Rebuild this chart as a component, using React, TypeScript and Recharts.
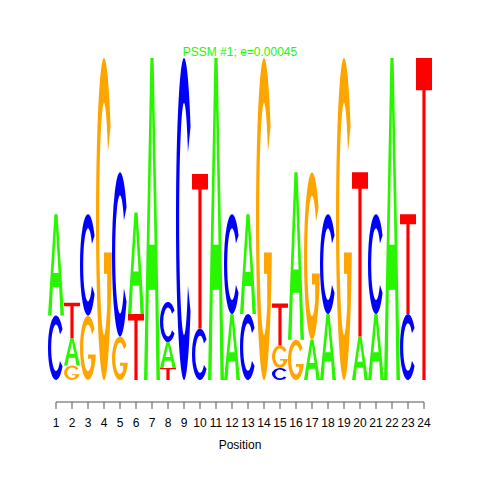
import { BarChart, Bar, XAxis, YAxis, ReferenceLine } from "recharts";

// sequence logo: letters per position, bottom to top, heights in bits
const positions = ["1", "2", "3", "4", "5", "6", "7", "8", "9", "10", "11", "12", "13", "14", "15", "16", "17", "18", "19", "20", "21", "22", "23", "24"];
const letterStacks = ["CA", "GAT", "GC", "G", "GC", "TA", "A", "TAC", "C", "CT", "A", "AC", "CA", "G", "CGT", "GA", "AG", "AC", "G", "AT", "AC", "A", "CT", "T"];
const heightStacks = [
  [0.4, 0.63],
  [0.09, 0.17, 0.22],
  [0.4, 0.63],
  [2.0],
  [0.27, 1.02],
  [0.41, 0.63],
  [2.0],
  [0.075, 0.16, 0.25],
  [2.0],
  [0.32, 0.96],
  [2.0],
  [0.41, 0.62],
  [0.41, 0.62],
  [2.0],
  [0.075, 0.14, 0.26],
  [0.25, 1.04],
  [0.25, 1.04],
  [0.41, 0.62],
  [2.0],
  [0.27, 1.02],
  [0.41, 0.62],
  [2.0],
  [0.41, 0.62],
  [2.0],
];

const title = "PSSM #1; e=0.00045";
const yMin = -0.1366;

const colors: Record<string, string> = {
  A: "#2AF500",
  C: "#0000FF",
  G: "#FFA500",
  T: "#FF0000",
};

const rows = positions.map((pos, i) => {
  const row: Record<string, string | number> = { pos };
  for (let k = 0; k < 3; k++) {
    row[`h${k}`] = heightStacks[i][k] ?? 0;
    row[`l${k}`] = letterStacks[i][k] ?? "";
  }
  return row;
});

const f = (n: number) => n.toFixed(2);

function ellPt(cx: number, cy: number, rx: number, ry: number, deg: number) {
  const t = (deg * Math.PI) / 180;
  return [cx + rx * Math.cos(t), cy + ry * Math.sin(t)];
}

function letterPath(l: string, x: number, y: number, w: number, h: number) {
  const cx = x + w / 2;
  const cy = y + h / 2;
  const rx = w / 2;
  const ry = h / 2;
  const irx = w * 0.3;
  const iry = h * 0.36;
  if (l === "A") {
    return (
      `M${f(x)},${f(y + h)} L${f(x + 0.4 * w)},${f(y)} L${f(x + 0.6 * w)},${f(y)} L${f(x + w)},${f(y + h)} ` +
      `L${f(x + 0.78 * w)},${f(y + h)} L${f(x + 0.7 * w)},${f(y + 0.72 * h)} L${f(x + 0.3 * w)},${f(y + 0.72 * h)} L${f(x + 0.22 * w)},${f(y + h)} Z ` +
      `M${f(x + 0.34 * w)},${f(y + 0.58 * h)} L${f(x + 0.66 * w)},${f(y + 0.58 * h)} L${f(x + 0.5 * w)},${f(y + 0.15 * h)} Z`
    );
  }
  if (l === "T") {
    const b = y + 0.1 * h;
    return (
      `M${f(x)},${f(y)} L${f(x + w)},${f(y)} L${f(x + w)},${f(b)} L${f(x + 0.6 * w)},${f(b)} ` +
      `L${f(x + 0.6 * w)},${f(y + h)} L${f(x + 0.4 * w)},${f(y + h)} L${f(x + 0.4 * w)},${f(b)} L${f(x)},${f(b)} Z`
    );
  }
  if (l === "C") {
    const [ox1, oy1] = ellPt(cx, cy, rx, ry, -35);
    const [ox2, oy2] = ellPt(cx, cy, rx, ry, 35);
    const [ix2, iy2] = ellPt(cx, cy, irx, iry, 35);
    const [ix1, iy1] = ellPt(cx, cy, irx, iry, -35);
    return (
      `M${f(ox1)},${f(oy1)} A${f(rx)},${f(ry)} 0 1 0 ${f(ox2)},${f(oy2)} L${f(ix2)},${f(iy2)} ` +
      `A${f(irx)},${f(iry)} 0 1 1 ${f(ix1)},${f(iy1)} Z`
    );
  }
  // G
  const [ox1, oy1] = ellPt(cx, cy, rx, ry, -35);
  const [ox2, oy2] = ellPt(cx, cy, rx, ry, 12);
  const spurX = cx + 0.2 * w;
  const spurDeg = (Math.acos(0.2 / 0.3) * 180) / Math.PI;
  const [ix2, iy2] = ellPt(cx, cy, irx, iry, spurDeg);
  const [ix1, iy1] = ellPt(cx, cy, irx, iry, -35);
  const barB = cy + 0.17 * h;
  return (
    `M${f(ox1)},${f(oy1)} A${f(rx)},${f(ry)} 0 1 0 ${f(ox2)},${f(oy2)} L${f(cx)},${f(oy2)} L${f(cx)},${f(barB)} ` +
    `L${f(spurX)},${f(barB)} L${f(ix2)},${f(iy2)} A${f(irx)},${f(iry)} 0 1 1 ${f(ix1)},${f(iy1)} Z`
  );
}

const letterShape = (slot: number) => (props: any) => {
  const { x, y, width, height, payload } = props;
  const l = payload?.[`l${slot}`];
  if (!l || !height || height <= 0) return <g />;
  return <path d={letterPath(l, x, y, width, height)} fill={colors[l]} fillRule="evenodd" />;
};

export default function App() {
  return (
    <div style={{ position: "absolute", left: 0, top: 0, width: 480, height: 480, background: "#fff" }}>
      <BarChart
        width={480}
        height={480}
        data={rows}
        margin={{ top: 58, right: 48, left: 48, bottom: 28 }}
        barCategoryGap={0}
        barGap={0}
      >
        <XAxis
          dataKey="pos"
          height={50}
          interval={0}
          axisLine={false}
          tickSize={7}
          tickMargin={9}
          tickLine={{ stroke: "#555" }}
          tick={{ fill: "#000", fontSize: 12, fontFamily: "Liberation Sans, Arial, sans-serif" }}
          label={{ value: "Position", position: "insideBottom", offset: 3, fill: "#000", fontSize: 12, fontFamily: "Liberation Sans, Arial, sans-serif" }}
        />
        <YAxis hide type="number" domain={[yMin, 2]} allowDataOverflow />
        <ReferenceLine
          segment={[{ x: "1", y: yMin }, { x: "24", y: yMin }]}
          stroke="#555"
          ifOverflow="visible"
        />
        {[0, 1, 2].map((k) => (
          <Bar key={k} dataKey={`h${k}`} stackId="logo" isAnimationActive={false} shape={letterShape(k)} />
        ))}
      </BarChart>
      <div
        style={{
          position: "absolute",
          top: 45,
          left: 0,
          width: 480,
          textAlign: "center",
          fontFamily: "Liberation Sans, Arial, sans-serif",
          fontSize: 12,
          lineHeight: "14px",
          color: "#2AF500",
        }}
      >
        {title}
      </div>
    </div>
  );
}
